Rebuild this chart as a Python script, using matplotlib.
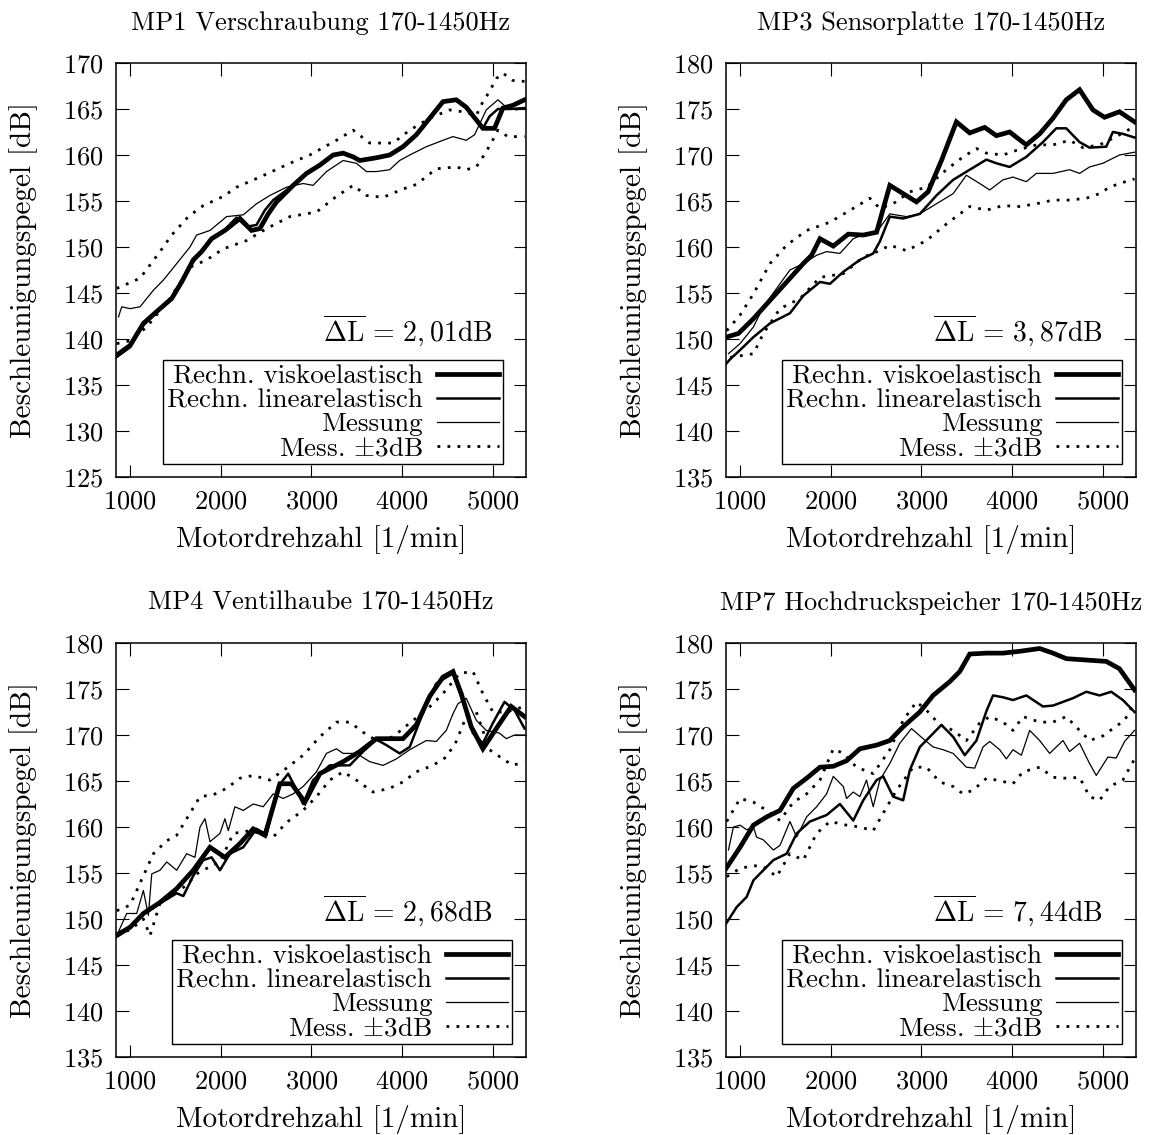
import matplotlib
matplotlib.use("Agg")
import matplotlib.pyplot as plt

plt.rcParams["font.family"] = ["cmr10"]
plt.rcParams["mathtext.fontset"] = "cm"
plt.rcParams["axes.formatter.use_mathtext"] = True

# ---------------------------------------------------------------------------
# Data: engine speed [1/min] and acceleration level [dB] per series
# ---------------------------------------------------------------------------
titles = ["MP1 Verschraubung 170-1450Hz", "MP3 Sensorplatte 170-1450Hz",
          "MP4 Ventilhaube 170-1450Hz", "MP7 Hochdruckspeicher 170-1450Hz"]
delta_l = ["2,01", "3,87", "2,68", "7,44"]
y_limits = [(125, 170), (135, 180), (135, 180), (135, 180)]
x_ticks = [1000, 2000, 3000, 4000, 5000]
legend_labels = ["Rechn. viskoelastisch", "Rechn. linearelastisch", "Messung",
                 r"Mess. $\pm$3dB"]

# MP1 Verschraubung
mp1_visko = [(846, 138.2), (1000, 139.3), (1147, 141.7), (1330, 143.3), (1459, 144.4),
             (1569, 146.2), (1697, 148.6), (1789, 149.5), (1899, 150.9), (2046, 151.8),
             (2211, 153.1), (2339, 151.8), (2431, 152.0), (2523, 153.6), (2615, 154.9),
             (2798, 156.7), (2945, 158.0), (3092, 158.9), (3239, 160.0), (3349, 160.2),
             (3459, 159.8), (3532, 159.4), (3716, 159.7), (3862, 160.0), (4009, 160.9),
             (4156, 162.2), (4303, 164.0), (4450, 165.8), (4596, 166.0), (4706, 165.2),
             (4890, 162.9), (5018, 162.9), (5110, 165.1), (5220, 165.4), (5349, 166.0)]
mp1_linear = [(846, 138.0), (1000, 139.1), (1147, 141.5), (1330, 143.2), (1459, 144.5),
              (1569, 146.3), (1697, 148.4), (1789, 149.6), (1899, 150.9), (2046, 151.9),
              (2174, 153.2), (2284, 152.2), (2394, 152.4), (2486, 154.0), (2578, 155.1),
              (2798, 156.7), (2945, 158.0), (3092, 158.9), (3239, 160.0), (3349, 160.2),
              (3459, 159.8), (3532, 159.4), (3716, 159.7), (3862, 160.0), (4009, 160.9),
              (4156, 162.2), (4303, 164.0), (4450, 165.8), (4596, 166.0), (4706, 165.2),
              (4890, 162.9), (4963, 164.2), (5055, 165.0), (5183, 165.0), (5349, 165.1)]
mp1_mess = [(872, 142.4), (908, 143.5), (1000, 143.3), (1110, 143.5), (1257, 145.3),
            (1367, 146.4), (1514, 148.2), (1661, 150.0), (1734, 151.3), (1881, 151.8),
            (2064, 153.3), (2248, 153.5), (2394, 154.7), (2541, 155.6), (2725, 156.5),
            (2908, 156.9), (3018, 156.7), (3165, 158.2), (3349, 159.4), (3495, 159.1),
            (3606, 158.2), (3716, 158.2), (3862, 158.4), (3972, 159.4), (4083, 160.0),
            (4266, 160.9), (4450, 161.6), (4560, 162.0), (4706, 161.6), (4798, 162.2),
            (4927, 164.9), (5055, 166.0), (5147, 165.2), (5257, 164.9), (5349, 165.1)]
mp1_upper = [(853, 145.5), (1110, 146.6), (1330, 149.5), (1459, 151.3), (1642, 153.3),
             (1807, 154.5), (2028, 155.5), (2174, 156.5), (2431, 157.6), (2761, 159.1),
             (2982, 160.0), (3275, 161.6), (3459, 162.7), (3642, 161.3), (3899, 161.3),
             (4083, 162.7), (4303, 164.0), (4523, 164.9), (4670, 164.7), (4817, 164.3),
             (4890, 165.8), (4963, 166.9), (5037, 168.3), (5110, 168.9), (5220, 168.1),
             (5349, 168.0)]
mp1_lower = [(853, 139.5), (1000, 139.8), (1183, 141.3), (1440, 144.4), (1661, 147.8),
             (1844, 148.6), (2028, 149.8), (2284, 150.7), (2505, 152.0), (2761, 153.3),
             (3055, 153.8), (3275, 155.5), (3459, 156.7), (3606, 155.6), (3789, 155.4),
             (4009, 156.3), (4156, 156.8), (4376, 158.5), (4596, 158.7), (4706, 158.4),
             (4817, 158.7), (4890, 159.8), (4982, 161.3), (5055, 162.7), (5165, 162.0),
             (5349, 162.0)]

# MP3 Sensorplatte
mp3_visko = [(846, 150.2), (982, 150.6), (1147, 152.2), (1330, 154.2), (1514, 156.2),
             (1697, 158.2), (1789, 159.1), (1881, 160.9), (2028, 160.1), (2193, 161.4),
             (2358, 161.3), (2505, 161.6), (2651, 166.7), (2798, 165.8), (2945, 164.9),
             (3073, 166.0), (3220, 169.4), (3385, 173.6), (3532, 172.4), (3697, 173.0),
             (3826, 172.1), (3972, 172.5), (4156, 171.1), (4303, 172.3), (4450, 174.0),
             (4596, 176.0), (4743, 177.1), (4890, 174.9), (5018, 174.1), (5183, 174.7),
             (5349, 173.6)]
mp3_linear = [(846, 147.3), (890, 147.8), (1000, 148.8), (1147, 150.2), (1330, 151.7),
              (1550, 152.8), (1697, 154.7), (1881, 156.2), (1991, 156.0), (2138, 157.3),
              (2321, 158.6), (2468, 159.3), (2541, 160.6), (2651, 163.3), (2798, 163.1),
              (2982, 163.6), (3165, 165.6), (3349, 167.3), (3532, 168.4), (3716, 169.5),
              (3826, 169.1), (3972, 168.7), (4156, 169.8), (4339, 171.4), (4486, 172.9),
              (4596, 172.9), (4743, 171.4), (4853, 170.8), (5037, 170.9), (5110, 172.5),
              (5220, 172.3), (5349, 171.9)]
mp3_mess = [(872, 148.4), (1000, 149.5), (1147, 151.3), (1257, 153.5), (1440, 156.0),
            (1550, 157.5), (1697, 158.2), (1844, 159.1), (1954, 159.5), (2101, 159.3),
            (2248, 160.9), (2394, 161.5), (2505, 161.6), (2651, 163.6), (2835, 163.3),
            (2982, 163.6), (3165, 164.7), (3349, 165.8), (3495, 167.8), (3642, 166.9),
            (3752, 166.2), (3899, 167.3), (4009, 167.6), (4156, 167.1), (4266, 168.0),
            (4450, 168.0), (4633, 168.4), (4743, 168.0), (4853, 168.7), (5000, 169.1),
            (5183, 170.0), (5349, 170.3)]
mp3_upper = [(853, 150.9), (1000, 152.6), (1147, 154.9), (1330, 158.2), (1514, 160.2),
             (1734, 161.8), (1991, 162.7), (2248, 164.2), (2431, 165.3), (2541, 164.2),
             (2688, 164.7), (2872, 166.0), (3055, 166.5), (3275, 168.4), (3459, 169.8),
             (3606, 170.7), (3716, 170.2), (3899, 170.0), (4046, 170.5), (4266, 171.1),
             (4450, 171.1), (4633, 171.6), (4780, 170.8), (4963, 171.1), (5147, 172.0),
             (5349, 173.1)]
mp3_lower = [(890, 148.0), (1147, 148.4), (1257, 150.6), (1440, 153.3), (1661, 154.4),
             (1881, 156.7), (2138, 157.1), (2358, 158.9), (2541, 159.6), (2651, 160.2),
             (2835, 159.6), (3055, 160.7), (3275, 162.5), (3532, 164.4), (3716, 164.0),
             (3899, 164.5), (4083, 164.4), (4266, 164.7), (4450, 165.1), (4633, 165.1),
             (4817, 165.3), (4963, 165.8), (5073, 166.5), (5183, 166.9), (5349, 167.4)]

# MP4 Ventilhaube
mp4_visko = [(853, 148.2), (1000, 149.1), (1147, 150.6), (1330, 151.8), (1514, 153.3),
             (1697, 155.3), (1881, 157.8), (2046, 156.7), (2211, 158.2), (2358, 159.8),
             (2486, 159.1), (2651, 164.7), (2780, 164.7), (2927, 162.7), (3092, 165.8),
             (3349, 167.1), (3532, 168.2), (3716, 169.6), (4009, 169.6), (4156, 171.1),
             (4303, 174.2), (4450, 176.3), (4560, 176.9), (4651, 174.5), (4761, 170.9),
             (4890, 168.5), (5037, 170.7), (5202, 173.1), (5349, 172.0)]
mp4_linear = [(853, 148.4), (1000, 149.2), (1147, 150.5), (1330, 151.7), (1514, 152.8),
              (1587, 152.5), (1697, 154.7), (1807, 156.4), (1899, 156.7), (1991, 155.3),
              (2101, 157.1), (2248, 157.8), (2394, 159.8), (2505, 159.2), (2633, 164.4),
              (2743, 165.8), (2817, 164.4), (2908, 162.5), (3018, 165.1), (3202, 166.7),
              (3422, 166.7), (3569, 168.2), (3716, 169.5), (3826, 168.9), (3972, 168.0),
              (4083, 168.7), (4229, 172.4), (4376, 175.6), (4560, 176.7), (4670, 173.6),
              (4780, 170.2), (4890, 169.1), (5000, 171.3), (5128, 173.6), (5239, 172.7),
              (5349, 170.7)]
mp4_mess = [(853, 148.2), (963, 150.6), (1073, 150.6), (1147, 153.1), (1202, 150.4),
            (1239, 154.9), (1330, 155.3), (1404, 156.2), (1514, 155.3), (1624, 157.1),
            (1715, 156.7), (1771, 160.0), (1826, 160.9), (1881, 158.4), (1991, 159.3),
            (2046, 160.9), (2083, 159.6), (2156, 162.2), (2248, 161.8), (2358, 162.5),
            (2468, 162.2), (2578, 163.6), (2688, 163.1), (2798, 163.6), (2908, 164.4),
            (3055, 166.0), (3165, 168.0), (3275, 168.5), (3349, 168.0), (3495, 168.0),
            (3642, 167.1), (3789, 166.7), (3936, 167.4), (4083, 168.4), (4266, 169.4),
            (4376, 169.3), (4486, 170.5), (4560, 172.3), (4615, 173.4), (4706, 174.0),
            (4817, 171.6), (4927, 170.5), (5073, 170.2), (5147, 169.6), (5239, 170.0),
            (5349, 170.0)]
mp4_upper = [(853, 150.9), (1000, 151.5), (1147, 154.7), (1257, 157.1), (1404, 158.5),
             (1514, 159.1), (1661, 161.5), (1771, 163.3), (1917, 163.5), (2064, 164.2),
             (2211, 165.3), (2358, 165.6), (2541, 165.1), (2725, 166.4), (2908, 167.8),
             (3092, 169.8), (3275, 171.4), (3422, 171.4), (3569, 170.3), (3716, 169.4),
             (3899, 169.8), (4083, 171.3), (4266, 172.7), (4450, 174.5), (4633, 176.7),
             (4780, 176.9), (4890, 174.5), (5000, 172.5), (5147, 172.5), (5349, 173.1)]
mp4_lower = [(853, 148.4), (1000, 148.8), (1147, 150.0), (1220, 148.2), (1330, 151.7),
             (1514, 152.9), (1624, 153.7), (1734, 154.9), (1881, 155.7), (1991, 156.2),
             (2138, 159.3), (2321, 159.6), (2578, 158.9), (2725, 160.5), (2908, 161.8),
             (3055, 163.3), (3202, 165.1), (3349, 166.0), (3495, 165.1), (3679, 163.8),
             (3862, 164.2), (4009, 164.9), (4156, 166.0), (4339, 166.7), (4486, 167.6),
             (4596, 169.3), (4706, 172.0), (4817, 172.5), (4963, 168.4), (5110, 167.4),
             (5220, 166.7), (5349, 167.1)]

# MP7 Hochdruckspeicher
mp7_visko = [(846, 155.5), (1000, 157.8), (1147, 160.2), (1294, 161.1), (1440, 161.8),
             (1587, 164.2), (1734, 165.3), (1881, 166.5), (2028, 166.6), (2174, 167.2),
             (2321, 168.5), (2505, 168.9), (2651, 169.4), (2798, 170.9), (2982, 172.5),
             (3128, 174.3), (3312, 175.8), (3422, 176.9), (3532, 178.8), (3716, 178.9),
             (3899, 178.9), (4083, 179.1), (4303, 179.4), (4450, 178.9), (4596, 178.3),
             (4743, 178.2), (4890, 178.1), (5037, 178.0), (5183, 177.2), (5349, 174.9)]
mp7_linear = [(846, 149.5), (963, 151.3), (1073, 152.4), (1147, 154.2), (1257, 155.3),
              (1367, 156.4), (1514, 157.1), (1624, 159.3), (1771, 160.6), (1954, 161.3),
              (2101, 162.5), (2248, 160.7), (2358, 162.9), (2505, 165.1), (2578, 165.5),
              (2688, 163.3), (2798, 162.9), (2872, 166.2), (2982, 168.7), (3092, 169.8),
              (3220, 171.1), (3349, 169.8), (3477, 167.8), (3606, 169.4), (3716, 172.6),
              (3789, 174.3), (3899, 174.1), (4009, 173.8), (4156, 174.3), (4339, 173.1),
              (4450, 173.2), (4670, 174.0), (4817, 174.7), (4963, 174.3), (5092, 174.7),
              (5220, 173.8), (5349, 172.5)]
mp7_mess = [(872, 157.5), (927, 160.0), (1000, 160.2), (1073, 159.7), (1147, 160.0),
            (1183, 158.9), (1257, 158.6), (1367, 157.5), (1440, 158.0), (1550, 160.6),
            (1624, 158.9), (1734, 161.1), (1844, 162.2), (1954, 163.6), (2028, 165.5),
            (2138, 164.4), (2174, 163.1), (2248, 163.8), (2321, 163.3), (2394, 165.1),
            (2468, 162.2), (2541, 165.1), (2651, 166.9), (2761, 169.1), (2890, 170.7),
            (3018, 169.6), (3128, 168.7), (3239, 168.4), (3349, 168.0), (3495, 166.5),
            (3587, 166.4), (3679, 168.7), (3752, 169.3), (3862, 168.4), (3936, 167.4),
            (4009, 168.4), (4101, 167.8), (4193, 170.5), (4303, 169.4), (4413, 168.0),
            (4560, 169.4), (4633, 168.2), (4743, 169.1), (4853, 166.9), (4927, 165.6),
            (5055, 167.6), (5147, 167.5), (5239, 169.3), (5349, 170.5)]
mp7_upper = [(853, 160.6), (1000, 163.1), (1147, 162.7), (1294, 161.8), (1440, 160.7),
             (1587, 162.7), (1734, 163.6), (1881, 165.1), (2028, 168.5), (2138, 168.0),
             (2284, 166.5), (2468, 165.8), (2651, 168.4), (2798, 171.6), (2945, 173.6),
             (3055, 172.7), (3202, 171.1), (3349, 170.5), (3495, 169.4), (3642, 171.3),
             (3752, 172.0), (3899, 171.4), (4009, 170.5), (4119, 172.0), (4303, 171.4),
             (4450, 171.4), (4596, 172.0), (4743, 170.5), (4853, 169.4), (5000, 169.9),
             (5110, 170.7), (5239, 171.6), (5349, 173.6)]
mp7_lower = [(853, 154.6), (1000, 155.5), (1147, 155.8), (1257, 155.7), (1404, 154.6),
             (1550, 157.1), (1697, 156.4), (1844, 159.3), (1991, 160.6), (2174, 160.2),
             (2321, 160.0), (2468, 159.6), (2578, 161.5), (2725, 164.0), (2908, 166.5),
             (3055, 166.5), (3202, 164.9), (3349, 164.4), (3459, 163.6), (3569, 164.0),
             (3716, 165.3), (3826, 165.1), (4009, 164.7), (4119, 166.0), (4303, 166.5),
             (4450, 165.4), (4596, 165.3), (4743, 165.4), (4853, 163.3), (4963, 162.9),
             (5073, 164.4), (5220, 165.1), (5349, 167.4)]

panels = [
    (mp1_visko, mp1_linear, mp1_mess, mp1_upper, mp1_lower),
    (mp3_visko, mp3_linear, mp3_mess, mp3_upper, mp3_lower),
    (mp4_visko, mp4_linear, mp4_mess, mp4_upper, mp4_lower),
    (mp7_visko, mp7_linear, mp7_mess, mp7_upper, mp7_lower),
]

# ---------------------------------------------------------------------------
W, H = 1168, 1135
fig = plt.figure(figsize=(W / 100, H / 100), dpi=100)
TICK_FS = 19
TITLE_FS = 19
LABEL_FS = 21
LEGEND_FS = 19.5
NOTE_FS = 20

# axes boxes in pixels: left, top, right, bottom
boxes = [(116, 63, 526, 477), (726, 63, 1136, 477),
         (116, 643, 526, 1057), (726, 643, 1136, 1057)]
legend_right = [0.944, 0.966, 0.966, 0.966]

dot_style = (0, (1.0, 2.6))


def xy(series):
    return [p[0] for p in series], [p[1] for p in series]


for i, (box, data) in enumerate(zip(boxes, panels)):
    l, t, r, b = box
    ax = fig.add_axes([l / W, 1 - b / H, (r - l) / W, (b - t) / H])
    visko, linear, mess, upper, lower = data

    h1, = ax.plot(*xy(visko), color="black", lw=3.4, solid_joinstyle="miter")
    h2, = ax.plot(*xy(linear), color="black", lw=1.8)
    h3, = ax.plot(*xy(mess), color="black", lw=0.9)
    h4, = ax.plot(*xy(upper), color="black", lw=2.0, linestyle=dot_style,
                  dash_capstyle="butt")
    ax.plot(*xy(lower), color="black", lw=2.0, linestyle=dot_style,
            dash_capstyle="butt")

    ax.set_xlim(845, 5365)
    ax.set_ylim(*y_limits[i])
    ax.set_xticks(x_ticks)
    ax.set_yticks(range(y_limits[i][0], y_limits[i][1] + 1, 5))
    ax.tick_params(direction="in", top=True, right=True, length=9, width=0.8,
                   labelsize=TICK_FS, pad=9)
    for s in ax.spines.values():
        s.set_linewidth(1.1)

    ax.set_title(titles[i], fontsize=TITLE_FS, pad=24)
    ax.set_xlabel("Motordrehzahl [1/min]", fontsize=LABEL_FS)
    ax.set_ylabel("Beschleunigungspegel [dB]", fontsize=LABEL_FS)
    ax.xaxis.set_label_coords(0.5, -0.115)
    ax.yaxis.set_label_coords(-0.19, 0.5)

    ax.text(0.92, 0.326,
            r"$\overline{\Delta\mathrm{L}}\,=\," + delta_l[i] + "$dB",
            transform=ax.transAxes, ha="right", va="baseline", fontsize=NOTE_FS)

    leg = ax.legend([h1, h2, h3, h4], legend_labels, loc="lower right",
                    bbox_to_anchor=(legend_right[i], 0.031), fontsize=LEGEND_FS,
                    markerfirst=False, frameon=True, fancybox=False,
                    framealpha=1, edgecolor="black", borderpad=0.15,
                    labelspacing=0.0, handlelength=2.3, handletextpad=0.5,
                    borderaxespad=0)
    leg.get_frame().set_linewidth(1.0)

fig.savefig("out.png", dpi=100)
